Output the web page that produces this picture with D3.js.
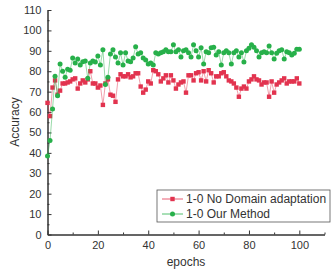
<!DOCTYPE html>
<html>
<head>
<meta charset="utf-8">
<script src="https://cdn.jsdelivr.net/npm/d3@7"></script>
<style>
body { margin: 0; background: #fff; }
text { font-family: "Liberation Sans", Arial, sans-serif; }
</style>
</head>
<body>
<div id="chart"></div>
<script>
// Accuracy per epoch
var epochs = d3.range(0, 101);

var noAdapt = [64.5, 58, 72, 75.5, 68.5, 70.5, 74, 74, 74.5, 75,
  76, 76.5, 71.5, 74, 75.5, 74.5, 76, 80, 74, 74,
  72, 73, 63.5, 74, 76, 68.5, 68, 65, 76, 78.5,
  77.5, 77.5, 78.5, 77, 77.5, 79, 79, 72.5, 69.5, 71,
  75, 74, 80.5, 80, 78.5, 75, 76.5, 78, 74.5, 78,
  75.5, 71.5, 73.5, 74.5, 75, 69.5, 78, 78, 75.5, 79,
  79.5, 75.5, 80, 75, 80.5, 79, 74.5, 77.5, 77.5, 79,
  79.5, 77.5, 75.5, 75, 74, 72, 67.5, 71.5, 72.5, 71.5,
  75, 76, 77.5, 76, 75.5, 73.5, 74.5, 74.5, 67.5, 75,
  69.5, 73.5, 74.5, 75.5, 76.5, 74, 75, 75, 75, 76.5, 74];

var ourMethod = [38.5, 46, 61.5, 77.5, 68, 83.5, 80, 77, 81, 80.5,
  86.5, 84, 86, 83, 84.7, 85, 76.5, 84, 85, 84.5,
  87.5, 83, 90.5, 73.5, 77, 88.5, 90.5, 87, 84, 89,
  83, 89, 85, 84.7, 86.5, 92, 88.5, 89, 86.5, 85.5,
  83.5, 84, 83, 89, 88.5, 89, 89.5, 90.5, 89.5, 89.5,
  93, 89.5, 90.5, 87, 90, 90.5, 89, 87, 93, 90,
  87, 91.5, 83.5, 89.5, 89, 91.5, 91.8, 88, 89.5, 83,
  89, 90, 89, 83.5, 89, 90, 87, 89, 84.5, 90,
  91.3, 93, 91.8, 90, 87, 89, 89.5, 89, 92.4, 89,
  86, 88.8, 90, 90.5, 86, 89.5, 89, 88, 88.8, 90.8, 90.8];

var seriesNames = ["1-0 No Domain adaptation", "1-0 Our Method"];
var xTicks = [0, 20, 40, 60, 80, 100];
var yTicks = d3.range(0, 111, 10);

var svgWidth = 333;
var svgHeight = 270;

var svg = d3.select("#chart")
    .append("svg")
    .attr("width", svgWidth)
    .attr("height", svgHeight);

var x = d3.scaleLinear().domain([0, 110]).range([47.5, 324.5]);
var y = d3.scaleLinear().domain([0, 110]).range([234.5, 10]);

var red = "#e2334f";
var green = "#27b04a";

// axes, ticks pointing inward
svg.append("g")
    .attr("transform", "translate(0," + y(0) + ")")
    .call(d3.axisBottom(x).tickValues(xTicks).tickSize(-4).tickPadding(7).tickSizeOuter(0));
svg.append("g")
    .attr("transform", "translate(0," + y(0) + ")")
    .call(d3.axisBottom(x).tickValues(d3.range(10, 111, 20)).tickSize(-2).tickFormat("").tickSizeOuter(0));

svg.append("g")
    .attr("transform", "translate(" + x(0) + ",0)")
    .call(d3.axisLeft(y).tickValues(yTicks).tickSize(-4).tickPadding(6).tickSizeOuter(0));
svg.append("g")
    .attr("transform", "translate(" + x(0) + ",0)")
    .call(d3.axisLeft(y).tickValues(d3.range(5, 110, 10)).tickSize(-2).tickFormat("").tickSizeOuter(0));

svg.selectAll(".domain, .tick line").attr("stroke", "#333");
svg.selectAll(".tick text").attr("font-size", "11px").attr("fill", "#333")
    .style("font-family", "Liberation Sans, Arial, sans-serif");

// axis titles
svg.append("text")
    .attr("transform", "rotate(-90)")
    .attr("x", -122)
    .attr("y", 19)
    .attr("text-anchor", "middle")
    .attr("font-size", "12px")
    .attr("fill", "#333")
    .text("Accuracy");

svg.append("text")
    .attr("x", 186)
    .attr("y", 266)
    .attr("text-anchor", "middle")
    .attr("font-size", "12px")
    .attr("fill", "#333")
    .text("epochs");

var line = d3.line()
    .x(function(d, i) { return x(epochs[i]); })
    .y(function(d) { return y(d); });

// No domain adaptation (red squares)
svg.append("path")
    .datum(noAdapt)
    .attr("fill", "none")
    .attr("stroke", red)
    .attr("stroke-opacity", 0.6)
    .attr("stroke-width", 0.8)
    .attr("d", line);

svg.selectAll(".sq")
    .data(noAdapt)
    .enter()
    .append("rect")
    .attr("x", function(d, i) { return x(epochs[i]) - 2.2; })
    .attr("y", function(d) { return y(d) - 2.2; })
    .attr("width", 4.4)
    .attr("height", 4.4)
    .attr("fill", red);

// our method (green circles)
svg.append("path")
    .datum(ourMethod)
    .attr("fill", "none")
    .attr("stroke", green)
    .attr("stroke-opacity", 0.6)
    .attr("stroke-width", 0.8)
    .attr("d", line);

svg.selectAll(".dot")
    .data(ourMethod)
    .enter()
    .append("circle")
    .attr("cx", function(d, i) { return x(epochs[i]); })
    .attr("cy", function(d) { return y(d); })
    .attr("r", 2.5)
    .attr("fill", green);

// legend
var legend = svg.append("g").attr("transform", "translate(157,190)");
legend.append("rect")
    .attr("width", 173)
    .attr("height", 32)
    .attr("fill", "#fff")
    .attr("stroke", "#555")
    .attr("stroke-width", 0.8);

var colors = [red, green];
seriesNames.forEach(function(name, i) {
    var g = legend.append("g").attr("transform", "translate(0," + (9 + i * 15) + ")");
    g.append("line")
        .attr("x1", 5).attr("x2", 26)
        .attr("stroke", colors[i]).attr("stroke-width", 0.8);
    if (i == 0) {
        g.append("rect").attr("x", 13.3).attr("y", -2.2).attr("width", 4.4).attr("height", 4.4).attr("fill", red);
    } else {
        g.append("circle").attr("cx", 15.5).attr("r", 2.5).attr("fill", green);
    }
    g.append("text")
        .attr("x", 29)
        .attr("y", 4)
        .attr("font-size", "12px")
        .attr("fill", "#333")
        .text(name);
});
</script>
</body>
</html>
